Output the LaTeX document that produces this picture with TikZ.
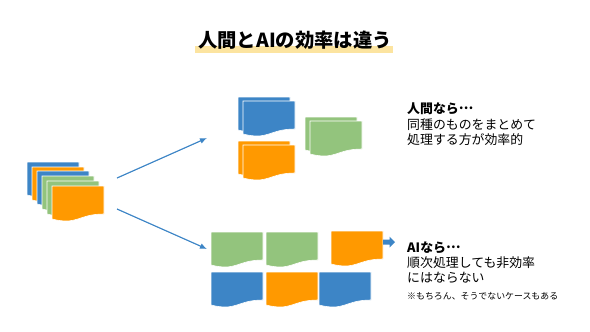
\documentclass[tikz,border=0pt]{standalone}
\usepackage{fontspec}
\setmainfont{Noto Sans CJK JP}
\usetikzlibrary{arrows.meta}
\definecolor{docblue}{RGB}{61,133,198}
\definecolor{docorange}{RGB}{255,153,0}
\definecolor{docgreen}{RGB}{147,196,125}
\definecolor{marker}{RGB}{252,228,160}
\newcommand\middots{\raisebox{0.32em}{…}}
\tikzset{
	paper/.pic={
		\fill[pic actions, draw=white, line width=0.5pt] (0,0) -- (52,0) -- (52,28)
			.. controls (26,28) and (26,39.5) .. (0,33) -- cycle;
	},
	flow/.style={draw=docblue, line width=1pt, -{Latex[length=6pt,width=5pt]}},
	txt/.style={anchor=west, inner sep=0pt, font=\fontsize{11}{13}\selectfont}
}
\begin{document}
\begin{tikzpicture}[x=0.03cm, y=-0.03cm]
		\useasboundingbox (0,0) rectangle (590,331);
		
		% title
		\fill[marker] (195,46) rectangle (393,53);
		\node[inner sep=0pt, font=\fontsize{16.5}{18}\selectfont\bfseries] (title) at (295,40) {人間とAIの効率は違う};
		
		% stack of jobs
		\pic[fill=docblue] at (27,162) {paper};
		\pic[fill=docorange] at (32,167) {paper};
		\pic[fill=docblue] at (37,171) {paper};
		\pic[fill=docgreen] at (42,176) {paper};
		\pic[fill=docgreen] at (47,181) {paper};
		\pic[fill=docorange] at (52,186) {paper};
		
		\coordinate (src1) at (117,178);
		\coordinate (src2) at (117,209);
		\coordinate (dst1) at (207,138);
		\coordinate (dst2) at (207,249);
		\draw[flow] (src1) -- (dst1);
		\draw[flow] (src2) -- (dst2);
		
		% human: grouped
		\pic[fill=docblue] at (238,97) {paper};
		\pic[fill=docblue] at (243,101) {paper};
		\pic[fill=docorange] at (238,141) {paper};
		\pic[fill=docorange] at (243,145) {paper};
		\pic[fill=docgreen] at (305,117) {paper};
		\pic[fill=docgreen] at (310,121) {paper};
		
		% AI: one by one
		\pic[fill=docgreen] at (211,232) {paper};
		\pic[fill=docgreen] at (266,232) {paper};
		\pic[fill=docorange] at (331,231) {paper};
		\pic[fill=docblue] at (211,272) {paper};
		\pic[fill=docorange] at (266,272) {paper};
		\pic[fill=docblue] at (319,272) {paper};
		\fill[docblue] (383,239.5) -- (389.5,239.5) -- (389.5,236.5) -- (395,242)
			-- (389.5,247.5) -- (389.5,244.5) -- (383,244.5) -- cycle;
		
		\node[txt] (h1) at (407,109) {\bfseries 人間なら\middots};
		\node[txt] (h2) at (407,124.5) {同種のものをまとめて};
		\node[txt] (h3) at (407,139.5) {処理する方が効率的};
		
		\node[txt] (a1) at (407,247.5) {\bfseries AIなら\middots};
		\node[txt] (a2) at (407,262.5) {順次処理しても非効率};
		\node[txt] (a3) at (407,277.5) {にはならない};
		\node[txt, font=\fontsize{7.6}{9}\selectfont] (a4) at (407,296) {※もちろん、そうでないケースもある};
	\end{tikzpicture}
\end{document}
